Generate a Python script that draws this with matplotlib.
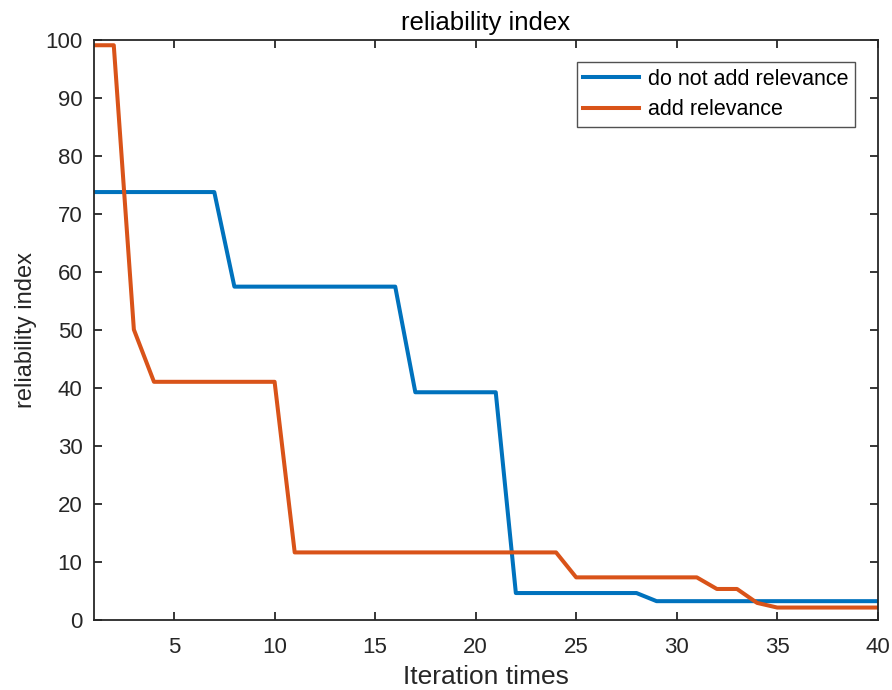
import matplotlib.pyplot as plt
import numpy as np

plt.rcParams['font.family'] = ['Liberation Sans', 'DejaVu Sans']

iterations = list(range(1, 41))
no_relevance = [73.8] * 7 + [57.5] * 9 + [39.3] * 5 + [4.7] * 7 + [3.3] * 12
with_relevance = [99.1, 99.1, 50.1] + [41.1] * 7 + [11.7] * 14 + [7.4] * 7 + [5.4, 5.4, 3.0] + [2.2] * 6

fig = plt.figure(figsize=(8.92, 6.9), dpi=100)
ax = fig.add_axes([0.105, 0.101, 0.879, 0.841])

ax.plot(iterations, no_relevance, color='#0072BD', lw=2.9, label='do not add relevance')
ax.plot(iterations, with_relevance, color='#D95319', lw=2.9, label='add relevance')

ax.set_xlim(1, 40)
ax.set_ylim(0, 100)
ax.set_xticks([5, 10, 15, 20, 25, 30, 35, 40])
ax.set_yticks(np.arange(0, 101, 10))
ax.tick_params(direction='in', top=True, right=True, labelsize=16, length=5.5,
               width=1.3, colors='#262626')
ax.tick_params(axis='x', pad=12)
ax.tick_params(axis='y', pad=8)
for s in ax.spines.values():
    s.set_linewidth(1.3)
    s.set_color('#262626')

ax.set_xlabel('Iteration times', fontsize=19, color='#262626', labelpad=5)
ax.set_ylabel('reliability index', fontsize=17, color='#262626', labelpad=6)
ax.set_title('reliability index', fontsize=18.5, color='#000000', pad=7)

leg = ax.legend(loc='upper right', bbox_to_anchor=(0.971, 0.962), borderaxespad=0,
                fontsize=15.5, frameon=True, fancybox=False, edgecolor='#262626',
                handlelength=2.6, handletextpad=0.4, borderpad=0.3, labelspacing=0.45)
leg.get_frame().set_linewidth(1.0)

fig.savefig('out.png', dpi=100)
